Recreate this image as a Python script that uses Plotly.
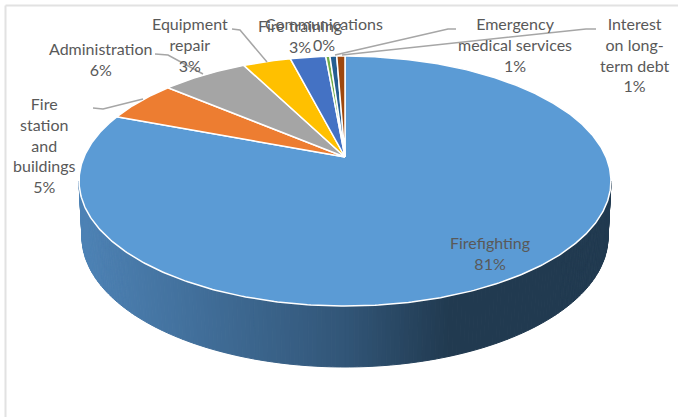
import numpy as np
import plotly.graph_objects as go

categories = ["Firefighting", "Fire station and buildings", "Administration", "Equipment repair",
              "Fire training", "Communications", "Emergency medical services", "Interest on long-term debt"]
shares = [80.8, 5.4, 6.3, 3.5, 2.6, 0.3, 0.5, 0.6]
pct_labels = ["81%", "5%", "6%", "3%", "3%", "0%", "1%", "1%"]
wrapped = ["Firefighting", "Fire<br>station<br>and<br>buildings", "Administration", "Equipment<br>repair",
           "Fire training", "Communications", "Emergency<br>medical services", "Interest<br>on long-<br>term debt"]
colors = ["#5B9BD5", "#ED7D31", "#A5A5A5", "#FFC000", "#4472C4", "#70AD47", "#255E91", "#9E480E"]
label_xy = [(490, 253), (44, 145), (100, 59), (190, 44), (300, 36), (324, 34), (515, 44), (634, 54)]
leaders = {1: [(93, 108), (103, 109), (143, 99)],
           2: [(155, 54), (168, 55), (203, 74)],
           3: [(232, 29), (240, 30), (267, 62)],
           6: [(456, 29), (448, 29), (335, 55)],
           7: [(596, 29), (586, 29), (342, 55)]}

W, H = 678, 417
CX, CY, A, B, K = 345, 157, 261, 120.4, 0.192
BOT_CY, BOT_A, BOT_B = 237, 263, 130


def project(theta):
    u, v = np.sin(theta), -np.cos(theta)
    d = 1 - K * v
    return CX + A * u / d, CY + B * v / d


fig = go.Figure()

# side wall of the first slice, drawn as narrow shaded strips
top_cy = 181
left_c = np.array([78, 131, 182])
mid_c = np.array([50, 86, 120])
right_c = np.array([33, 58, 80])
edges = np.linspace(-np.pi, 0, 181)
for a0, a1 in zip(edges[:-1], edges[1:]):
    am = np.linspace(a0, a1, 3)
    tx = 345 + 266 * np.cos(am)
    ty = top_cy - 125 * np.sin(am)
    bx = 345 + BOT_A * np.cos(am)
    by = BOT_CY - BOT_B * np.sin(am)
    f = (np.mean(tx) - 79) / 532
    if f < 0.5:
        c = left_c + (mid_c - left_c) * (f / 0.5)
    else:
        c = mid_c + (right_c - mid_c) * min(1, (f - 0.5) / 0.2)
    col = "rgb(%d,%d,%d)" % tuple(c)
    fig.add_trace(go.Scatter(x=np.r_[tx, bx[::-1], tx[0]], y=np.r_[ty, by[::-1], ty[0]], mode="lines",
                             fill="toself", fillcolor=col, line=dict(color=col, width=1),
                             hoverinfo="skip", showlegend=False))

# top face slices, from the shares
total = sum(shares)
start = 0.0
for name, s, col in zip(categories, shares, colors):
    sweep = s / total * 2 * np.pi
    t = np.linspace(start, start + sweep, max(3, int(s * 6)))
    px, py = project(t)
    fig.add_trace(go.Scatter(x=np.r_[CX, px, CX], y=np.r_[CY, py, CY], mode="lines", fill="toself",
                             fillcolor=col, line=dict(color="white", width=1.5), name=name,
                             showlegend=False))
    start += sweep

# leader lines
for i, pts in leaders.items():
    fig.add_trace(go.Scatter(x=[p[0] for p in pts], y=[p[1] for p in pts], mode="lines",
                             line=dict(color="#A6A6A6", width=1.5), hoverinfo="skip", showlegend=False))

# labels
for w, p, (x, y) in zip(wrapped, pct_labels, label_xy):
    fig.add_annotation(x=x, y=y, text=f"{w}<br>{p}", showarrow=False, xanchor="center", yanchor="middle",
                       align="center", font=dict(family="Lato", size=16, color="#595959"))

# chart frame
fig.add_shape(type="line", x0=5.5, x1=5.5, y0=5.5, y1=H, line=dict(color="#E2E2E2", width=2))
fig.add_shape(type="line", x0=5.5, x1=W, y0=5.5, y1=5.5, line=dict(color="#E2E2E2", width=2))

fig.update_layout(width=W, height=H, autosize=False, margin=dict(l=0, r=0, t=0, b=0),
                  paper_bgcolor="white", plot_bgcolor="white", showlegend=False,
                  xaxis=dict(range=[0, W], visible=False, fixedrange=True),
                  yaxis=dict(range=[H, 0], visible=False, fixedrange=True))
fig.write_html("out.html", config={"displayModeBar": False},
               post_script="document.body.style.margin='0';document.body.style.overflow='hidden';")
